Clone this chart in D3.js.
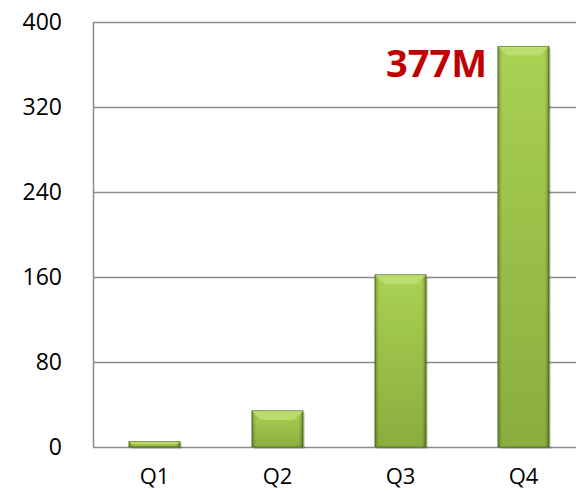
<!DOCTYPE html>
<html>
<head>
<meta charset="utf-8">
<script src="https://cdn.jsdelivr.net/npm/d3@7"></script>
<style>
  body { margin: 0; background: #fff; }
  text { font-family: "Open Sans", "Noto Sans", sans-serif; }
</style>
</head>
<body>
<div id="chart"></div>
<script>
// data
var quarters = ['Q1', 'Q2', 'Q3', 'Q4'];
var values = [5, 34, 162, 377];
var yTicks = [0, 80, 160, 240, 320, 400];
var callout = '377M';

var W = 576, H = 492;
var margin = { top: 22, right: 0, bottom: 45, left: 93 };
var plotW = 492; // runs past the right edge like the original
var plotH = H - margin.top - margin.bottom;

var svg = d3.select('#chart').append('svg')
    .attr('width', W)
    .attr('height', H);

var defs = svg.append('defs');
var grad = defs.append('linearGradient')
    .attr('id', 'barFill')
    .attr('x1', 0).attr('y1', 0).attr('x2', 0).attr('y2', 1);
grad.append('stop').attr('offset', '0%').attr('stop-color', '#a9d152');
grad.append('stop').attr('offset', '100%').attr('stop-color', '#8aad3e');

var side = defs.append('linearGradient')
    .attr('id', 'barSide')
    .attr('x1', 0).attr('y1', 0).attr('x2', 1).attr('y2', 0);
side.append('stop').attr('offset', '0%').attr('stop-color', '#000').attr('stop-opacity', 0.25);
side.append('stop').attr('offset', '8%').attr('stop-color', '#000').attr('stop-opacity', 0);
side.append('stop').attr('offset', '92%').attr('stop-color', '#000').attr('stop-opacity', 0);
side.append('stop').attr('offset', '100%').attr('stop-color', '#000').attr('stop-opacity', 0.3);

var g = svg.append('g')
    .attr('transform', 'translate(' + margin.left + ',' + margin.top + ')');

var x = d3.scaleBand().domain(quarters).range([0, plotW]).paddingInner(0.585).paddingOuter(0.2925);
var y = d3.scaleLinear().domain([0, 400]).range([plotH, 0]);

// gridlines
g.selectAll('line.grid')
    .data(yTicks)
    .enter().append('line')
    .attr('class', 'grid')
    .attr('x1', 0).attr('x2', plotW)
    .attr('y1', function(d) { return Math.round(y(d)) + 0.5; })
    .attr('y2', function(d) { return Math.round(y(d)) + 0.5; })
    .attr('stroke', '#8c8c8c')
    .attr('stroke-width', 1.5);

// y axis line
g.append('line')
    .attr('x1', 0.5).attr('x2', 0.5)
    .attr('y1', 0).attr('y2', plotH)
    .attr('stroke', '#8c8c8c')
    .attr('stroke-width', 1.5);

// y axis labels
var yAxis = d3.axisLeft(y).tickValues(yTicks).tickSize(0).tickPadding(31);
g.append('g')
    .call(yAxis)
    .call(function(s) { s.select('.domain').remove(); })
    .selectAll('text')
    .attr('font-size', 23)
    .attr('fill', '#000')
    .style('font-family', '"Open Sans", sans-serif');

// x axis labels
var xAxis = d3.axisBottom(x).tickSize(0).tickPadding(21);
g.append('g')
    .attr('transform', 'translate(0,' + plotH + ')')
    .call(xAxis)
    .call(function(s) { s.select('.domain').remove(); })
    .selectAll('text')
    .attr('font-size', 22)
    .attr('fill', '#000')
    .style('font-family', '"Open Sans", sans-serif');

// bars
var bars = g.selectAll('g.bar')
    .data(quarters.map(function(q, i) { return { q: q, v: values[i] }; }))
    .enter().append('g')
    .attr('class', 'bar');

// shadow
bars.append('rect')
    .attr('x', function(d) { return x(d.q) + 2; })
    .attr('y', function(d) { return y(d.v) + 2; })
    .attr('width', x.bandwidth())
    .attr('height', function(d) { return plotH - y(d.v); })
    .attr('fill', '#000')
    .attr('opacity', 0.15);

bars.append('rect')
    .attr('x', function(d) { return x(d.q); })
    .attr('y', function(d) { return y(d.v); })
    .attr('width', x.bandwidth())
    .attr('height', function(d) { return plotH - y(d.v); })
    .attr('fill', 'url(#barFill)')
    .attr('stroke', '#5f7a25')
    .attr('stroke-width', 1);

bars.append('rect')
    .attr('x', function(d) { return x(d.q); })
    .attr('y', function(d) { return y(d.v); })
    .attr('width', x.bandwidth())
    .attr('height', function(d) { return plotH - y(d.v); })
    .attr('fill', 'url(#barSide)');

// top bevel
bars.append('path')
    .attr('d', function(d) {
        var x0 = x(d.q), x1 = x0 + x.bandwidth(), t = y(d.v);
        var b = Math.min(9, (plotH - t) / 2);
        return 'M' + x0 + ',' + t + 'L' + x1 + ',' + t +
            'L' + (x1 - b) + ',' + (t + b) + 'L' + (x0 + b) + ',' + (t + b) + 'Z';
    })
    .attr('fill', '#c4e27a')
    .attr('opacity', 0.7);

// callout
g.append('text')
    .attr('x', x('Q4') - 11)
    .attr('y', 55)
    .attr('text-anchor', 'end')
    .attr('font-size', 38)
    .attr('font-weight', 'bold')
    .attr('fill', '#c00000')
    .text(callout);
</script>
</body>
</html>
